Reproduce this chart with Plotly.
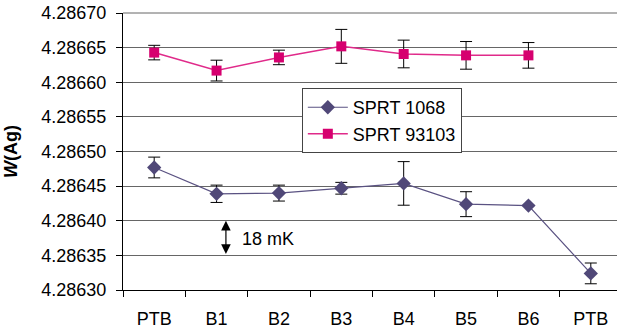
import plotly.graph_objects as go

categories = ["PTB", "B1", "B2", "B3", "B4", "B5", "B6", "PTB"]

sprt1068 = [4.286477, 4.286439, 4.286440, 4.286447, 4.286454, 4.286424, 4.286422, 4.286324]
sprt1068_err = [0.0000150, 0.0000125, 0.0000115, 0.0000085, 0.0000315, 0.0000180, 0.0, 0.0000150]

sprt93103 = [4.286643, 4.286617, 4.286636, 4.286652, 4.286641, 4.286639, 4.286639]
sprt93103_err = [0.0000105, 0.0000150, 0.0000105, 0.0000245, 0.0000200, 0.0000200, 0.0000185]

ytick_vals = [4.28630, 4.28635, 4.28640, 4.28645, 4.28650, 4.28655, 4.28660, 4.28665, 4.28670]

FONT = "Liberation Sans, Arial, sans-serif"
FS = 18
GRID = "#666666"

x1068 = list(range(len(sprt1068)))
x93103 = list(range(len(sprt93103)))

fig = go.Figure()
fig.add_trace(go.Scatter(
    x=x1068, y=sprt1068, name="SPRT 1068", mode="lines+markers",
    line=dict(color="#5A5282", width=1.2),
    marker=dict(symbol="diamond", size=11, color="#504878"),
    error_y=dict(type="data", array=sprt1068_err, visible=True,
                 color="black", thickness=1, width=6),
))
fig.add_trace(go.Scatter(
    x=x93103, y=sprt93103, name="SPRT 93103", mode="lines+markers",
    line=dict(color="#E02A8A", width=1.5),
    marker=dict(symbol="square", size=10, color="#D6006F"),
    error_y=dict(type="data", array=sprt93103_err, visible=True,
                 color="black", thickness=1, width=6),
))

# top border gridline of plot area
fig.add_shape(type="line", xref="x domain", yref="y domain", x0=0, x1=1, y0=1, y1=1,
              line=dict(color=GRID, width=1), layer="below")

# 18 mK double arrow
fig.add_annotation(x=1.15, y=4.286400, ax=1.15, ay=4.286350, xref="x", yref="y",
                   axref="x", ayref="y", text="", showarrow=True,
                   arrowhead=2, startarrowhead=2, arrowside="end+start",
                   arrowsize=1.6, startarrowsize=1.6, arrowwidth=1.2, arrowcolor="black")
fig.add_annotation(x=1.38, y=4.286374, xref="x", yref="y", text="18 mK",
                   showarrow=False, xanchor="left", yanchor="middle",
                   font=dict(family=FONT, size=FS, color="black"))

fig.update_layout(
    width=617, height=329,
    margin=dict(l=123, r=0, t=13, b=39, autoexpand=False),
    paper_bgcolor="white", plot_bgcolor="white",
    font=dict(family=FONT, size=FS, color="black"),
    showlegend=True,
    legend=dict(x=0.362, y=0.729, xanchor="left", yanchor="top",
                bgcolor="white", bordercolor="#444", borderwidth=1,
                font=dict(family=FONT, size=FS), tracegroupgap=0,
                itemwidth=40),
)
fig.update_xaxes(
    range=[-0.5, 7.42], tickmode="array",
    tickvals=list(range(len(categories))), ticktext=categories,
    ticks="outside", ticklen=6, tickcolor="rgba(0,0,0,0)", ticklabelstandoff=6,
    showgrid=False, zeroline=False, automargin=False,
    showline=True, linecolor="black", linewidth=1,
    minor=dict(tickmode="linear", tick0=-0.5, dtick=1, ticks="outside",
               ticklen=6, tickcolor="black", showgrid=False),
    tickfont=dict(family=FONT, size=FS),
)
fig.update_yaxes(
    range=[4.28630, 4.2867002], tickmode="array", tickvals=ytick_vals,
    ticktext=[f"{v:.5f}" for v in ytick_vals],
    ticks="outside", ticklen=6, tickcolor="black", ticklabelstandoff=6,
    showgrid=True, gridcolor=GRID, gridwidth=1, zeroline=False,
    showline=True, linecolor="black", linewidth=1, automargin=False,
    tickfont=dict(family=FONT, size=FS),
    title=dict(text="<b><i>W</i>(Ag)</b>", font=dict(family=FONT, size=FS), standoff=19),
)

fig.write_html("out.html", config={"displayModeBar": False},
               post_script="document.body.style.margin='0';")
